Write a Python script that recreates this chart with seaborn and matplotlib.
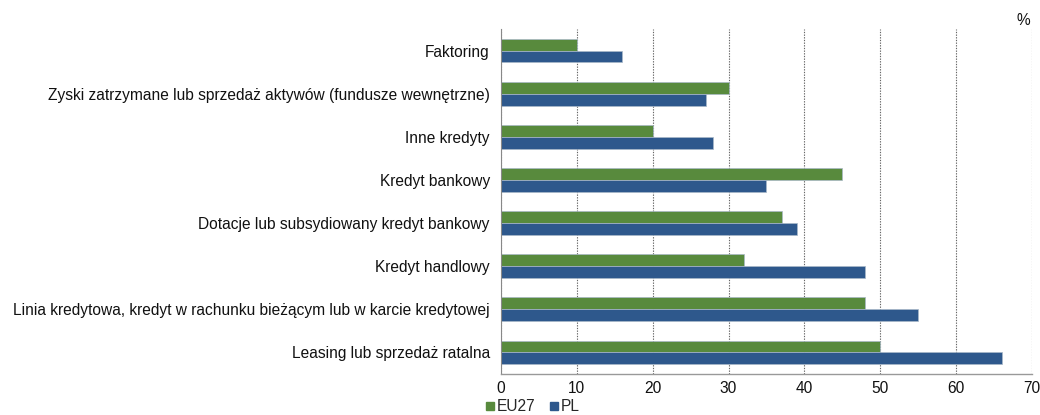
import matplotlib
matplotlib.use("Agg")
import matplotlib.pyplot as plt
import seaborn as sns
import pandas as pd

categories = [
    "Faktoring",
    "Zyski zatrzymane lub sprzedaż aktywów (fundusze wewnętrzne)",
    "Inne kredyty",
    "Kredyt bankowy",
    "Dotacje lub subsydiowany kredyt bankowy",
    "Kredyt handlowy",
    "Linia kredytowa, kredyt w rachunku bieżącym lub w karcie kredytowej",
    "Leasing lub sprzedaż ratalna",
]
eu27 = [10, 30, 20, 45, 37, 32, 48, 50]
pl = [16, 27, 28, 35, 39, 48, 55, 66]
series_names = ["EU27", "PL"]
x_ticks = [0, 10, 20, 30, 40, 50, 60, 70]

df = pd.DataFrame({
    "kategoria": categories * 2,
    "wartosc": eu27 + pl,
    "seria": [series_names[0]] * len(categories) + [series_names[1]] * len(categories),
})

sns.set_style("white")
plt.rcParams["font.family"] = ["Liberation Sans", "DejaVu Sans"]

colors = {"EU27": "#588A3D", "PL": "#2E588C"}
fs = 11.2

fig = plt.figure(figsize=(10.4, 4.15), dpi=100)
ax = fig.add_axes([0.4817, 0.0988, 0.5106, 0.8313])

sns.barplot(
    data=df, y="kategoria", x="wartosc", hue="seria",
    order=categories, hue_order=series_names, palette=colors,
    orient="h", width=0.55, dodge=True, ax=ax, saturation=1,
    edgecolor="#A9B8C8", linewidth=0.5, legend=False,
)

ax.set_xlim(0, 70)
ax.set_ylim(len(categories) - 0.5, -0.5)
ax.set_xticks(x_ticks)
ax.set_xticklabels([str(t) for t in x_ticks], fontsize=fs, color="#111111")
ax.tick_params(axis="y", labelsize=fs, labelcolor="#111111", length=0, pad=8)
ax.tick_params(axis="x", length=0, pad=5)
ax.set_xlabel("")
ax.set_ylabel("")

ax.grid(axis="x", linestyle=(0, (1.2, 1.2)), color="#666666", linewidth=0.8)
ax.grid(axis="y", visible=False)
ax.set_axisbelow(True)

for side in ["top", "right"]:
    ax.spines[side].set_visible(False)
ax.spines["left"].set_color("#888888")
ax.spines["bottom"].set_color("#999999")
ax.spines["left"].set_linewidth(0.8)
ax.spines["bottom"].set_linewidth(1.0)

fig.text(0.984, 0.932, "%", fontsize=fs, ha="center", va="bottom", color="#111111")

handles = [
    plt.Line2D([], [], marker="s", linestyle="none", markersize=6,
               markerfacecolor=colors[n], markeredgecolor=colors[n])
    for n in series_names
]
fig.legend(handles, series_names, loc="center left", bbox_to_anchor=(0.457, 0.02),
           ncol=2, frameon=False, fontsize=fs, handletextpad=0.0,
           columnspacing=0.7, handlelength=0.9, borderpad=0)

fig.savefig("out.png", dpi=100)
